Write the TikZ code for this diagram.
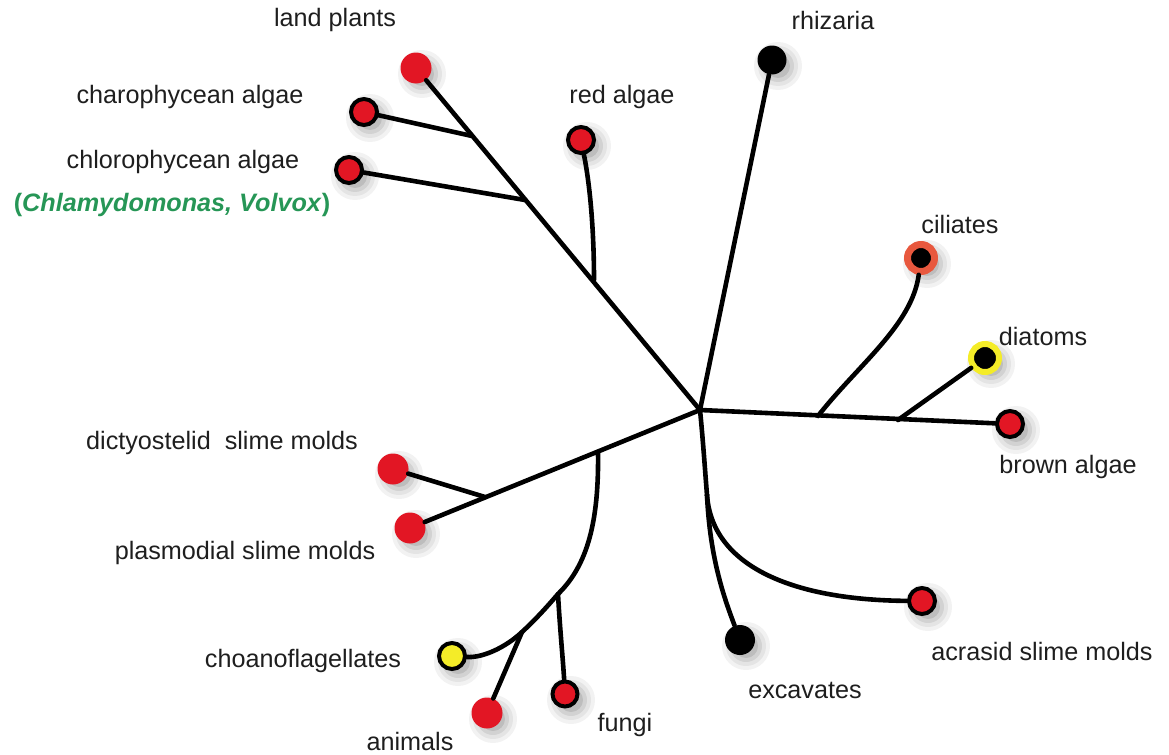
\documentclass[tikz,border=0pt]{standalone}
\usepackage{fontspec}
\setmainfont{Liberation Sans}
\definecolor{dotred}{RGB}{226,22,36}
\definecolor{ringorange}{RGB}{232,88,62}
\definecolor{dotyellow}{RGB}{244,236,40}
\definecolor{latingreen}{RGB}{38,150,86}
\definecolor{labelgray}{RGB}{30,30,30}
\pgfdeclarelayer{shade}
\pgfsetlayers{shade,main}
\begin{document}
\begin{tikzpicture}[x=0.5pt,y=-0.5pt,
  branch/.style={line width=2.3pt, black, line cap=round},
  dot/.style={circle, inner sep=0pt, minimum size=13pt},
  redplain/.style={dot, fill=dotred, minimum size=15.5pt},
  redring/.style={dot, fill=dotred, draw=black, line width=2pt},
  blackdot/.style={dot, fill=black, minimum size=14.5pt},
  ciliring/.style={dot, fill=black, draw=ringorange, line width=3.5pt, minimum size=13.5pt},
  diatring/.style={dot, fill=black, draw=dotyellow, line width=3pt, minimum size=14pt},
  yellowring/.style={dot, fill=dotyellow, draw=black, line width=2pt},
  taxon/.style={text=labelgray, font=\fontsize{12.6}{15}\selectfont, inner sep=0pt}]
\useasboundingbox (0,0) rectangle (1169,755);

% hub and branch points
\coordinate (hub) at (700,410);
\coordinate (jred) at (594,280);
\coordinate (jchlo) at (525,200);
\coordinate (jchar) at (472,136);
\coordinate (jcili) at (818,416);
\coordinate (jdiat) at (898,420);
\coordinate (jacr) at (707,495);
\coordinate (jslime) at (485,497);
\coordinate (jopis) at (598,452);
\coordinate (jfung) at (558,594);
\coordinate (janim) at (522,632);

% terminal taxa
\node[redplain] (landplants) at (416,68) {};
\node[redring] (charo) at (364,112) {};
\node[redring] (chloro) at (349,170) {};
\node[redring] (redalgae) at (581,140) {};
\node[blackdot] (rhizaria) at (772,60) {};
\node[ciliring] (ciliates) at (921,258) {};
\node[diatring] (diatoms) at (985,358) {};
\node[redring] (brown) at (1010,424) {};
\node[redring] (acrasid) at (922,601) {};
\node[blackdot, minimum size=15pt] (excavates) at (740,640) {};
\node[redplain] (dictyo) at (393,469) {};
\node[redplain] (plasmo) at (410,528) {};
\node[yellowring] (choano) at (452,656) {};
\node[redplain] (animals) at (487,713) {};
\node[redring, minimum size=12.5pt] (fungi) at (565,694) {};

% soft drop shadows under the dots
\begin{pgfonlayer}{shade}
  \foreach \n in {landplants,charo,chloro,redalgae,rhizaria,ciliates,diatoms,
                  brown,acrasid,excavates,dictyo,plasmo,choano,animals,fungi} {
    \foreach \r/\o in {12/0.05, 10/0.06, 8/0.08, 6/0.10} {
      \fill[black, opacity=\o] ([shift={(3pt,-3pt)}]\n.center) circle[radius=\r pt];
    }
  }
\end{pgfonlayer}

% archaeplastida
\draw[branch] (hub) -- (landplants);
\draw[branch] (jchar) -- (charo);
\draw[branch] (jchlo) -- (chloro);
\draw[branch] (jred) .. controls (594,230) and (590,185) .. (redalgae);
% rhizaria
\draw[branch] (hub) -- (rhizaria);
% chromalveolates
\draw[branch] (hub) -- (brown);
\draw[branch] (jcili) .. controls (858,365) and (912,325) .. (ciliates);
\draw[branch] (jdiat) -- (diatoms);
% excavates and acrasids
\draw[branch] (hub) .. controls (703,440) and (705,470) .. (jacr);
\draw[branch] (jacr) .. controls (710,560) and (725,600) .. (excavates);
\draw[branch] (jacr) .. controls (712,565) and (790,600) .. (acrasid);
% amoebozoa and opisthokonts
\draw[branch] (hub) -- (plasmo);
\draw[branch] (jslime) -- (dictyo);
\draw[branch] (jopis) .. controls (599,520) and (588,565) .. (jfung)
  .. controls (546,608) and (535,620) .. (janim)
  .. controls (505,648) and (482,658) .. (choano);
\draw[branch] (janim) -- (animals);
\draw[branch] (jfung) .. controls (560,630) and (563,660) .. (fungi);

% labels
\node[taxon] (lbl-land) at (335,20) {land plants};
\node[taxon] (lbl-charo) at (190,97) {charophycean algae};
\node[taxon] (lbl-chloro) at (183,162) {chlorophycean algae};
\node[taxon, text=latingreen, font=\fontsize{12.6}{15}\selectfont\bfseries] (lbl-genera) at (172,205) {(\textit{Chlamydomonas, Volvox})};
\node[taxon] (lbl-red) at (622,97) {red algae};
\node[taxon] (lbl-rhiz) at (833,20) {rhizaria};
\node[taxon] (lbl-cili) at (960,224) {ciliates};
\node[taxon] (lbl-diat) at (1043,336) {diatoms};
\node[taxon] (lbl-brown) at (1068,467) {brown algae};
\node[taxon] (lbl-dicty) at (222,443) {dictyostelid\ \ slime molds};
\node[taxon] (lbl-plasmo) at (245,553) {plasmodial slime molds};
\node[taxon] (lbl-choano) at (303,661) {choanoflagellates};
\node[taxon] (lbl-anim) at (410,741) {animals};
\node[taxon] (lbl-fungi) at (625,725) {fungi};
\node[taxon] (lbl-exc) at (805,690) {excavates};
\node[taxon] (lbl-acr) at (1042,651) {acrasid slime molds};
\end{tikzpicture}
\end{document}
